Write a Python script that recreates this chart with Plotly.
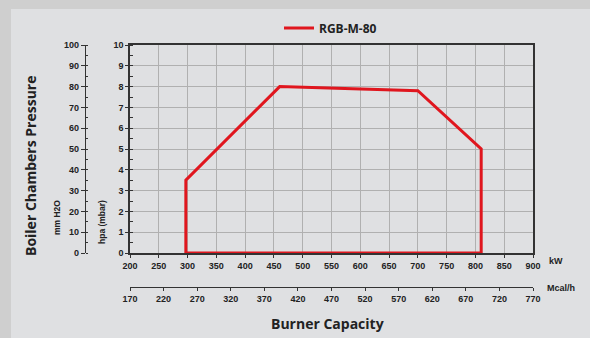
import plotly.graph_objects as go

# Data
series_name = "RGB-M-80"
kw_values = [297, 297, 460, 700, 810, 810, 297]
pressure_hpa = [0, 3.5, 8.0, 7.8, 5.0, 0, 0]
kw_ticks = list(range(200, 901, 50))
mcal_ticks = list(range(170, 771, 50))
hpa_ticks = list(range(0, 11, 1))
mmh2o_ticks = list(range(0, 101, 10))

W, H = 590, 338
def px(x): return x / W
def py(y): return 1 - y / H

RED = "#e0161e"
TXT = "#222222"
tickfont = dict(family="Liberation Sans", size=9, color=TXT, weight="bold")

fig = go.Figure()
fig.add_trace(go.Scatter(x=kw_values, y=pressure_hpa, mode="lines", name=series_name,
                         line=dict(color=RED, width=3), xaxis="x", yaxis="y"))
fig.add_trace(go.Scatter(x=[mcal_ticks[0], mcal_ticks[-1]], y=[0, 0], mode="markers",
                         marker=dict(opacity=0), showlegend=False, hoverinfo="skip",
                         xaxis="x2", yaxis="y"))
fig.add_trace(go.Scatter(x=[kw_ticks[0], kw_ticks[0]], y=[mmh2o_ticks[0], mmh2o_ticks[-1]], mode="markers",
                         marker=dict(opacity=0), showlegend=False, hoverinfo="skip",
                         xaxis="x", yaxis="y2"))

xdom = [px(130), px(533)]
ydom = [py(253), py(45)]

fig.update_layout(
    width=W, height=H, autosize=False,
    margin=dict(l=0, r=0, t=0, b=0, pad=0, autoexpand=False),
    paper_bgcolor="#cfcfcf",
    plot_bgcolor="rgba(0,0,0,0)",
    showlegend=True,
    legend=dict(orientation="h", x=px(279), xanchor="left", y=py(28), yanchor="middle",
                bgcolor="rgba(0,0,0,0)", font=dict(family="Open Sans", size=12, color=TXT, weight="bold"),
                itemwidth=30),
    xaxis=dict(domain=xdom, range=[200, 900], tickvals=kw_ticks, anchor="y", automargin=False,
               showgrid=True, gridcolor="#b0b0b0", gridwidth=1,
               showline=True, linecolor="#333333", linewidth=1.5, mirror=True,
               ticks="outside", ticklen=3, tickcolor="#333333", tickfont=tickfont, zeroline=False),
    xaxis2=dict(domain=xdom, range=[170, 770], tickvals=mcal_ticks, overlaying="x", anchor="free",
                position=py(287), side="bottom", showgrid=False, automargin=False,
                showline=True, linecolor="#333333", linewidth=1.2,
                ticks="outside", ticklen=3, tickcolor="#333333", tickfont=tickfont, zeroline=False),
    yaxis=dict(domain=ydom, range=[0, 10], tickvals=hpa_ticks, anchor="x", automargin=False,
               showgrid=True, gridcolor="#b0b0b0", gridwidth=1,
               showline=True, linecolor="#333333", linewidth=1.5, mirror=True,
               ticks="outside", ticklen=3, tickcolor="#333333", tickfont=tickfont, zeroline=False,
               minor=dict(ticks="inside", ticklen=3, dtick=0.5, tickcolor="#333333", showgrid=False)),
    yaxis2=dict(domain=ydom, range=[0, 100], tickvals=mmh2o_ticks, overlaying="y", anchor="free",
                position=px(85), side="left", showgrid=False, automargin=False,
                showline=True, linecolor="#333333", linewidth=1.2,
                ticks="outside", ticklen=4, tickcolor="#333333", tickfont=tickfont, zeroline=False,
                minor=dict(ticks="inside", ticklen=2, dtick=5, tickcolor="#333333", showgrid=False)),
)

fig.add_shape(type="rect", xref="paper", yref="paper", x0=px(11), x1=1.0, y0=0, y1=py(9),
              fillcolor="#dfe0e2", line=dict(width=0), layer="below")

titlefont = dict(family="Open Sans", size=14, color=TXT, weight="bold")
smallfont = dict(family="Liberation Sans", size=8.5, color=TXT, weight="bold")
ann = [
    dict(text="Boiler Chambers Pressure", x=px(30), y=py(166), textangle=-90, font=titlefont),
    dict(text="mm H2O", x=px(57), y=py(218), textangle=-90, font=smallfont),
    dict(text="hpa (mbar)", x=px(102), y=py(222), textangle=-90, font=smallfont),
    dict(text="kW", x=px(556), y=py(261), font=dict(family="Liberation Sans", size=9, color=TXT, weight="bold")),
    dict(text="Mcal/h", x=px(561), y=py(288), font=dict(family="Liberation Sans", size=9, color=TXT, weight="bold")),
    dict(text="Burner Capacity", x=px(327), y=py(323), font=titlefont),
]
for a in ann:
    fig.add_annotation(xref="paper", yref="paper", showarrow=False, xanchor="center", yanchor="middle", **a)

fig.write_html("out.html", config={"responsive": False, "displayModeBar": False},
               post_script="document.body.style.margin='0';document.body.style.overflow='hidden';")
